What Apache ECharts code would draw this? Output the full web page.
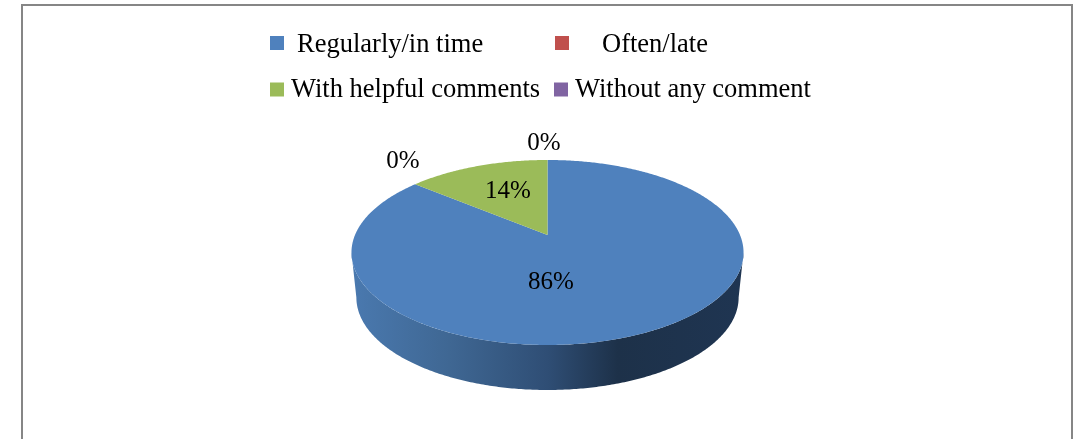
<!DOCTYPE html>
<html>
<head>
<meta charset="utf-8">
<style>html,body{margin:0;padding:0;background:#fff}#c{width:1073px;height:439px}</style>
<script src="https://cdn.jsdelivr.net/npm/echarts@6/dist/echarts.min.js"></script>
</head>
<body>
<div id="c"></div>
<script>
const categories = ['Regularly/in time', 'Often/late', 'With helpful comments', 'Without any comment'];
const values = [86, 0, 14, 0];
const colors = ['#4f81bd', '#c0504d', '#9bbb59', '#8064a2'];

// layout of the perspective pie (projective map of a unit disc)
const view = { cx: 547.5, apexY: 235, a: 89.2, b: 192.5, k: 0.189, depth: 45, baseScale: 0.975 };
const labelAt = [[551, 282], [403, 161], [508, 191], [544, 143]];
const legendAt = [[270, 32, 8, 5], [555, 32, 28, 5], [270, 77, 2, 2], [554, 77, 2, 2]];
const font = '"Liberation Serif","Times New Roman",serif';

const total = values.reduce((s, v) => s + v, 0);
function project(t, base) {
  const u = Math.sin(t), v = Math.cos(t), d = 1 + view.k * v;
  const sx = base ? view.baseScale : 1;
  return [view.cx + sx * view.b * u / d, view.apexY - view.a * v / d + (base ? view.depth : 0)];
}
function arc(t0, t1, base) {
  const n = Math.max(2, Math.ceil((t1 - t0) / 0.01)), pts = [];
  for (let i = 0; i <= n; i++) pts.push(project(t0 + (t1 - t0) * i / n, base));
  return pts;
}
const sideFill = new echarts.graphic.LinearGradient(352, 0, 743, 0, [
  { offset: 0, color: '#4a79af' },
  { offset: 0.25, color: '#3f6793' },
  { offset: 0.5, color: '#2f4e75' },
  { offset: 0.68, color: '#1d3149' },
  { offset: 1, color: '#1f3552' }
], true);

function renderSlice(index) {
  return function (params, api) {
    const val = api.value(0);
    const before = values.slice(0, index).reduce((s, v) => s + v, 0);
    const t0 = before / total * 2 * Math.PI;
    const t1 = (before + val) / total * 2 * Math.PI;
    const children = [];
    if (val > 0) {
      const frontStart = Math.acos(-view.k), frontEnd = 2 * Math.PI - frontStart;
      const s0 = Math.max(t0, frontStart), s1 = Math.min(t1, frontEnd);
      if (s1 > s0) {
        children.push({
          type: 'polygon',
          shape: { points: arc(s0, s1, false).concat(arc(s0, s1, true).reverse()) },
          style: { fill: sideFill }
        });
      }
      children.push({
        type: 'polygon',
        shape: { points: [[view.cx, view.apexY]].concat(arc(t0, t1, false)) },
        style: { fill: colors[index] }
      });
    }
    children.push({
      type: 'text',
      style: {
        text: Math.round(val / total * 100) + '%',
        x: labelAt[index][0], y: labelAt[index][1],
        align: 'center', verticalAlign: 'middle',
        fontFamily: font, fontSize: 25, fill: '#000'
      }
    });
    return { type: 'group', children };
  };
}

const chart = echarts.init(document.getElementById('c'), null, { renderer: 'canvas' });
chart.setOption({
  animation: false,
  backgroundColor: '#ffffff',
  graphic: [{
    type: 'rect', silent: true, z: -1,
    shape: { x: 22, y: 5, width: 1050, height: 460 },
    style: { fill: 'none', stroke: '#868686', lineWidth: 2 }
  }],
  legend: categories.map((name, i) => ({
    data: [name],
    left: legendAt[i][0], top: legendAt[i][1], padding: 0,
    icon: 'rect', itemWidth: 14, itemHeight: 14, selectedMode: false,
    formatter: '{t|{name}}',
    textStyle: {
      color: '#000',
      rich: { t: { fontFamily: font, fontSize: 26.5, color: '#000', padding: [legendAt[i][3], 0, 0, legendAt[i][2]] } }
    }
  })),
  series: categories.map((name, i) => ({
    type: 'custom', name, coordinateSystem: 'none',
    itemStyle: { color: colors[i] },
    data: [[values[i]]],
    renderItem: renderSlice(i),
    silent: true
  }))
});
</script>
</body>
</html>
